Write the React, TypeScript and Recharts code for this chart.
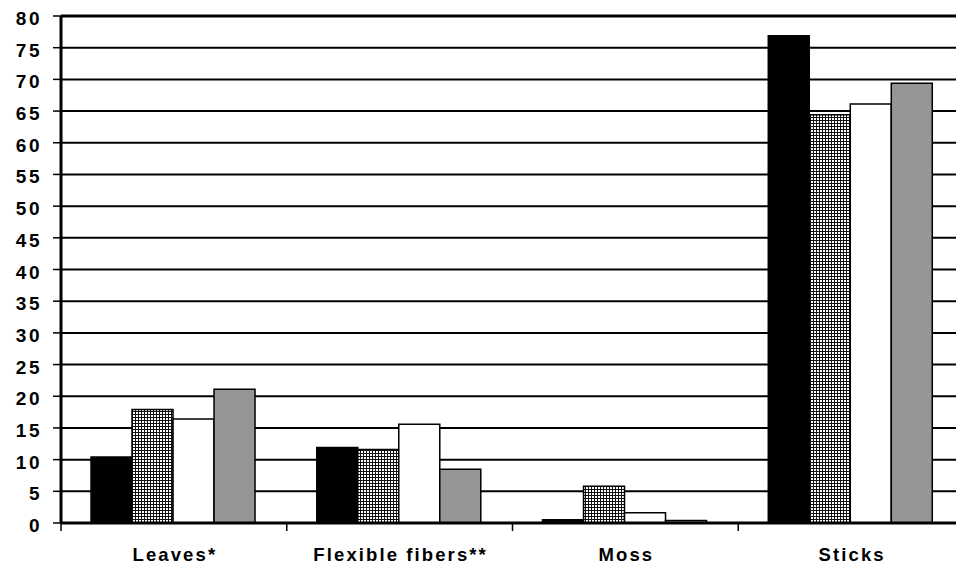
import { Bar, BarChart, CartesianGrid, ReferenceLine, XAxis, YAxis } from "recharts";

const categories = ["Leaves*", "Flexible fibers**", "Moss", "Sticks"];
const seriesA = [10.4, 11.9, 0.5, 76.9];
const seriesB = [17.9, 11.6, 5.8, 64.4];
const seriesC = [16.4, 15.6, 1.6, 66.1];
const seriesD = [21.1, 8.5, 0.4, 69.4];
const yTicks = [0, 5, 10, 15, 20, 25, 30, 35, 40, 45, 50, 55, 60, 65, 70, 75, 80];

const data = categories.map((name, i) => ({
  name,
  a: seriesA[i],
  b: seriesB[i],
  c: seriesC[i],
  d: seriesD[i],
}));

const CHART_W = 964;
const CHART_H = 564;
const Y_W = 61;
const FONT = '"Liberation Sans", Arial, sans-serif';

function XTick(props: any) {
  const { x, y, payload } = props;
  const band = (CHART_W - Y_W) / categories.length;
  return (
    <g>
      <line x1={x - band / 2} x2={x - band / 2} y1={y - 10} y2={y - 2} stroke="#000" strokeWidth={1.5} />
      <text
        x={x + 1}
        y={y + 28}
        textAnchor="middle"
        fontFamily={FONT}
        fontSize={18.5}
        fontWeight={700}
        fill="#000"
        style={{ letterSpacing: "2.1px" }}
      >
        {payload.value}
      </text>
    </g>
  );
}

function YTick(props: any) {
  const { x, y, payload } = props;
  return (
    <text
      x={x + 3}
      y={y + 9}
      textAnchor="end"
      fontFamily={FONT}
      fontSize={19}
      fontWeight={700}
      fill="#000"
      style={{ letterSpacing: "2.5px" }}
    >
      {payload.value}
    </text>
  );
}

export default function App() {
  return (
    <div
      style={{
        position: "absolute",
        left: 0,
        top: 0,
        width: 956,
        height: 564,
        overflow: "hidden",
        background: "#fff",
      }}
    >
      <svg width={0} height={0} style={{ position: "absolute" }}>
        <defs>
          <pattern id="grid" width={3} height={3} patternUnits="userSpaceOnUse">
            <rect width={3} height={3} fill="#fff" />
            <rect width={3} height={1} fill="#111" />
            <rect width={1} height={3} fill="#111" />
          </pattern>
        </defs>
      </svg>
      <BarChart
        width={CHART_W}
        height={CHART_H}
        data={data}
        margin={{ top: 16, right: 0, left: 0, bottom: 0 }}
        barCategoryGap="13.3%"
        barGap={0}
      >
        <CartesianGrid vertical={false} stroke="#000" strokeWidth={2} />
        <XAxis
          dataKey="name"
          height={41}
          axisLine={{ stroke: "#000", strokeWidth: 3 }}
          tickLine={false}
          tickSize={8}
          tickMargin={2}
          tick={<XTick />}
          interval={0}
        />
        <YAxis
          width={Y_W}
          domain={[0, 80]}
          ticks={yTicks}
          interval={0}
          axisLine={{ stroke: "#000", strokeWidth: 3 }}
          tickLine={{ stroke: "#000", strokeWidth: 1.5 }}
          tickSize={8}
          tickMargin={14}
          tick={<YTick />}
        />
        <ReferenceLine y={80} stroke="#000" strokeWidth={3} />
        <Bar dataKey="a" fill="#000" stroke="#000" strokeWidth={1.5} isAnimationActive={false} />
        <Bar dataKey="b" fill="url(#grid)" stroke="#000" strokeWidth={1.5} isAnimationActive={false} />
        <Bar dataKey="c" fill="#fff" stroke="#000" strokeWidth={1.5} isAnimationActive={false} />
        <Bar dataKey="d" fill="#969696" stroke="#000" strokeWidth={1.5} isAnimationActive={false} />
      </BarChart>
    </div>
  );
}
